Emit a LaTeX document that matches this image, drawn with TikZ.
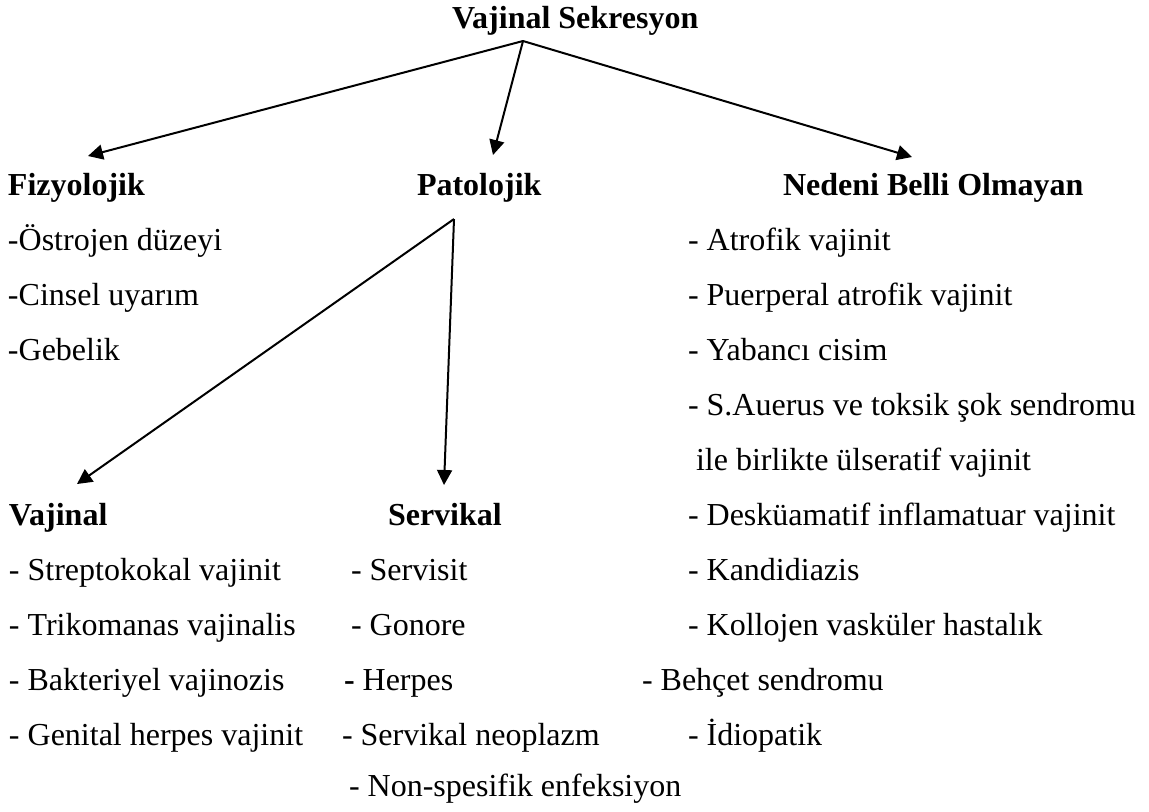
\documentclass[tikz,border=0pt]{standalone}
\usepackage{fontspec}
\setmainfont{Liberation Serif}
\usetikzlibrary{arrows.meta}
\begin{document}
\begin{tikzpicture}[x=0.5pt,y=-0.5pt,
  txt/.style={anchor=base west, inner sep=0pt, outer sep=0pt, font=\fontsize{16}{19}\selectfont},
  hd/.style={txt, font=\fontsize{16}{19}\selectfont\bfseries},
  arr/.style={line width=1pt, -{Triangle[length=7.5pt,width=7.5pt]}}]
\useasboundingbox (0,0) rectangle (1149,811);
% title and headings
\node[hd] (title) at (452,28) {Vajinal Sekresyon};
\node[hd] (fiz) at (8,195) {Fizyolojik};
\node[hd] (pat) at (417,195) {Patolojik};
\node[hd] (ned) at (783,195) {Nedeni Belli Olmayan};
\node[hd] (vaj) at (9,525) {Vajinal};
\node[hd] (ser) at (388,525) {Servikal};
% Fizyolojik items
\node[txt] (f1) at (8,250) {-Östrojen düzeyi};
\node[txt] (f2) at (8,305) {-Cinsel uyarım};
\node[txt] (f3) at (8,360) {-Gebelik};
% Nedeni belli olmayan items
\node[txt] (n1) at (688,250) {- Atrofik vajinit};
\node[txt] (n2) at (688,305) {- Puerperal atrofik vajinit};
\node[txt] (n3) at (688,360) {- Yabancı cisim};
\node[txt] (n4) at (688,415) {- S.Auerus ve toksik şok sendromu};
\node[txt] (n5) at (696,470) {ile birlikte ülseratif vajinit};
\node[txt] (n6) at (688,525) {- Desküamatif inflamatuar vajinit};
\node[txt] (n7) at (688,580) {- Kandidiazis};
\node[txt] (n8) at (688,635) {- Kollojen vasküler hastalık};
\node[txt] (n9) at (642,690) {- Behçet sendromu};
\node[txt] (n10) at (688,745) {- İdiopatik};
% Vajinal items
\node[txt] (v1) at (9,580) {- Streptokokal vajinit};
\node[txt] (v2) at (9,635) {- Trikomanas vajinalis};
\node[txt] (v3) at (9,690) {- Bakteriyel vajinozis};
\node[txt] (v4) at (9,745) {- Genital herpes vajinit};
% Servikal items
\node[txt] (s1) at (351,580) {- Servisit};
\node[txt] (s2) at (351,635) {- Gonore};
\node[txt] (s3) at (344,690) {{\bfseries -} Herpes};
\node[txt] (s4) at (342,745) {- Servikal neoplazm};
\node[txt] (s5) at (349,796) {- Non-spesifik enfeksiyon};
% connector points
\coordinate (src) at (523,41);
\coordinate (fizTip) at (88,156);
\coordinate (patTip) at (493,155);
\coordinate (nedTip) at (912,157);
\coordinate (branch) at (454,219);
\coordinate (vajTip) at (77,484);
\coordinate (serTip) at (444,485);
% connectors
\draw[arr] (src) -- (fizTip);
\draw[arr] (src) -- (patTip);
\draw[arr] (src) -- (nedTip);
\draw[arr] (branch) -- (vajTip);
\draw[arr] (branch) -- (serTip);
\end{tikzpicture}
\end{document}
